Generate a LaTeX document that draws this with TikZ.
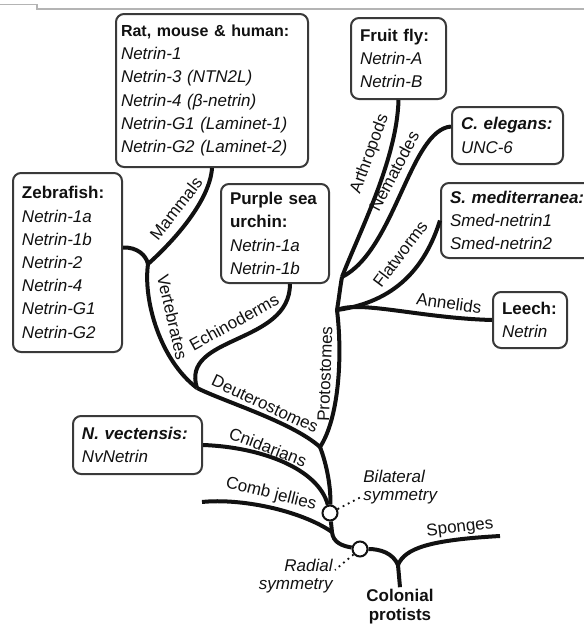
\documentclass[tikz,border=0pt]{standalone}
\usepackage{fontspec}
\setmainfont{Liberation Sans}
\usetikzlibrary{positioning}
\definecolor{ink}{HTML}{111111}
\definecolor{frame}{HTML}{3A3A3A}
\definecolor{scan}{HTML}{B4B4B4}
\tikzset{
  species/.style={rounded corners=4pt,draw=frame,fill=white,line width=1pt,align=left,
    inner xsep=4.5pt,inner ysep=0pt,text=ink,font=\fontsize{8.5}{11.6}\selectfont,
    text width=#1},
  species/.default=40pt,
  branch/.style={line width=2pt,draw=ink},
  clade/.style={font=\fontsize{8.5}{10}\selectfont,text=ink,inner sep=0pt},
  event/.style={circle,draw=ink,fill=white,line width=1pt,minimum size=7.5pt,inner sep=0pt},
  note/.style={font=\fontsize{8.5}{9}\selectfont\itshape,text=ink,inner sep=1pt},
  pointer/.style={draw=ink,line width=0.9pt,dotted},
}

\begin{document}
\begin{tikzpicture}[x=0.5pt,y=-0.5pt]
    \useasboundingbox (0,0) rectangle (584,628);
    \draw[scan,line width=0.6pt] (0,4.5) -- (37,4.5) -- (37,9) -- (584,9);

    % species boxes
    \node[species=91pt,inner xsep=2.5pt,minimum height=76.5pt] (rat) at (212,90.5)
      {{\fontsize{8}{11.6}\selectfont\bfseries Rat, mouse \& human:}\\\itshape Netrin-1\\
       Netrin-3 (NTN2L)\\Netrin-4 (β-netrin)\\Netrin-G1 (Laminet-1)\\Netrin-G2 (Laminet-2)};
    \node[species=38.5pt,minimum height=40.5pt] (fly) at (398.5,58.5)
      {\textbf{Fruit fly:}\\\itshape Netrin-A\\Netrin-B};
    \node[species=46.5pt,minimum height=28.5pt] (cel) at (507.5,135.5)
      {\textbf{\itshape C. elegans:}\\\itshape UNC-6};
    \node[species=70pt,minimum height=37.5pt] (smed) at (520,220.5)
      {\textbf{\itshape S. mediterranea:}\\\itshape Smed-netrin1\\Smed-netrin2};
    \node[species=28pt,minimum height=28pt] (leech) at (530,320)
      {\textbf{Leech:}\\\itshape Netrin};
    \node[species=45.5pt,minimum height=89.5pt] (zeb) at (67.5,262.5)
      {\textbf{Zebrafish:}\\\itshape Netrin-1a\\Netrin-1b\\Netrin-2\\Netrin-4\\Netrin-G1\\Netrin-G2};
    \node[species=45pt,minimum height=49.5pt] (urchin) at (275,233.5)
      {\textbf{Purple sea}\\\textbf{urchin:}\\\itshape Netrin-1a\\Netrin-1b};
    \node[species=55.5pt,minimum height=29pt] (nv) at (137.5,445)
      {\textbf{\itshape N. vectensis:}\\\itshape NvNetrin};

    \node[event] (bil) at (330,513) {};
    \node[event] (rad) at (360,549) {};
    \node[font=\fontsize{8.5}{9.5}\selectfont\bfseries,align=center,inner sep=1pt,text=ink]
      (prot) at (400,607) {Colonial\\protists};

    \coordinate (jroot) at (398,565);
    \coordinate (jcomb) at (332,532);
    \coordinate (jdp) at (320,447);
    \coordinate (jdeut) at (197,388);
    \coordinate (jvert) at (148,264);
    \coordinate (jprot) at (337,310);
    \coordinate (jnem) at (342,277);
    \coordinate (sp) at (500,536);
    \coordinate (ctn) at (202,502);

    % tree
    \draw[branch] (prot.north) -- (jroot);
    \draw[branch] (jroot) .. controls (405,548) and (430,540) .. (sp);
    \draw[branch] (jroot) .. controls (393,553) and (380,549) .. (rad);
    \draw[branch] (rad) .. controls (343,546) and (333,543) .. (jcomb) -- (bil);
    \draw[branch] (ctn) .. controls (240,498) and (300,510) .. (jcomb);
    \draw[branch] (nv.east) .. controls (260,447) and (318,468) .. (bil);
    \draw[branch] (jdp) .. controls (327,465) and (331,488) .. (bil);
    \draw[branch] (jdeut) .. controls (225,402) and (292,422) .. (jdp);
    \draw[branch] (jvert) .. controls (143,300) and (160,360) .. (jdeut);
    \draw[branch] ([xshift=7.5pt]urchin.south) .. controls (290,345) and (180,335) .. (jdeut);
    \draw[branch] ([yshift=7.5pt]zeb.east) .. controls (137,247) and (146,255) .. (jvert);
    \draw[branch] (jvert) .. controls (175,240) and (210,200) .. (rat.south);
    \draw[branch] (jdp) .. controls (338,420) and (343,360) .. (jprot)
      .. controls (339,298) and (340,288) .. (jnem);
    \draw[branch] (jprot) .. controls (360,300) and (420,318) .. (leech.west);
    \draw[branch] (jprot) .. controls (395,302) and (425,268) .. (smed.west);
    \draw[branch] (jnem) .. controls (395,250) and (410,130) .. ([yshift=4.5pt]cel.west);
    \draw[branch] (jnem) .. controls (358,235) and (397,160) .. (fly.south);

    % clade names
    \node[clade,rotate=52] (mam) at (176,208.5) {Mammals};
    \node[clade,rotate=-77] (vert) at (172.5,317) {Vertebrates};
    \node[clade,rotate=29] (ech) at (234,322) {Echinoderms};
    \node[clade,rotate=-25] (deut) at (265,404) {Deuterostomes};
    \node[clade,rotate=88] (prots) at (325,374) {Protostomes};
    \node[clade,rotate=70] (arth) at (370,154) {Arthropods};
    \node[clade,rotate=62] (nema) at (394,171) {Nematodes};
    \node[clade,rotate=53] (flat) at (400,254) {Flatworms};
    \node[clade,rotate=-8] (ann) at (449,303) {Annelids};
    \node[clade,rotate=-21] (cnid) at (268,447) {Cnidarians};
    \node[clade,rotate=-14] (comb) at (271,494) {Comb jellies};
    \node[clade,rotate=7] (spo) at (460,528) {Sponges};

    \node[note,align=left,anchor=west] (biltxt) at (361,487) {Bilateral\\symmetry};
    \node[note,align=right,anchor=east] (radtxt) at (335,576) {Radial\\symmetry};
    \draw[pointer] (bil) -- ([yshift=-5pt]biltxt.west);
    \draw[pointer] (rad) -- ([yshift=3pt]radtxt.east);
  \end{tikzpicture}
\end{document}
